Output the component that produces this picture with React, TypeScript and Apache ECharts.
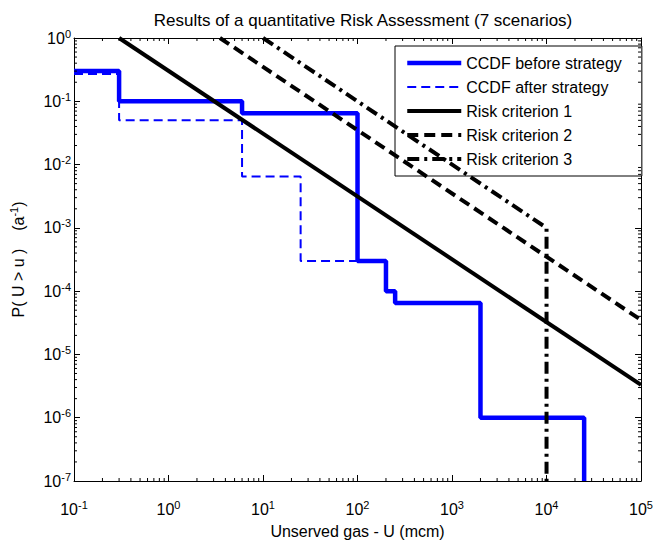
import React, { useEffect, useRef } from "react";
import * as echarts from "echarts";

// CCDF before strategy (step points: step occurs at each new x)
const xBefore = [0.1, 0.3, 6, 100, 200, 250, 2000, 25000];
const yBefore = [0.3, 0.1, 0.065, 3e-4, 1e-4, 6.5e-5, 1e-6, 1e-7];
// CCDF after strategy
const xAfter = [0.1, 0.3, 6, 25, 100];
const yAfter = [0.27, 0.05, 0.0065, 3e-4, 3e-4];
// Risk criteria
const xCrit1 = [0.3, 1e5];
const yCrit1 = [1, 3.3e-6];
const xCrit2 = [3.5, 1e5];
const yCrit2 = [1, 3.5e-5];
const xCrit3 = [10, 1e4, 1e4];
const yCrit3 = [1, 1e-3, 1e-7];

const seriesNames = [
  "CCDF before strategy",
  "CCDF after strategy",
  "Risk criterion 1",
  "Risk criterion 2",
  "Risk criterion 3",
];

// axis ranges and minor tick positions
const xMin = 0.1;
const xMax = 1e5;
const yMin = 1e-7;
const yMax = 1;
const minorMantissas = [2, 3, 4, 5, 6, 7, 8, 9];
const xDecades = [0.1, 1, 10, 100, 1000, 10000];
const yDecades = [1e-7, 1e-6, 1e-5, 1e-4, 1e-3, 1e-2, 1e-1];

const FONT = "Liberation Sans, Arial, sans-serif";

const pairs = (xs: number[], ys: number[]) => xs.map((x, i) => [x, ys[i]]);

const styles = [
  { color: "#0000ff", width: 4.5, type: "solid" as any },
  { color: "#0000ff", width: 2, type: [9, 5] as any },
  { color: "#000", width: 4, type: "solid" as any },
  { color: "#000", width: 4, type: [11, 6] as any },
  { color: "#000", width: 4, type: [12, 5, 3, 5] as any },
];

export default function App() {
  const ref = useRef<HTMLDivElement>(null);
  useEffect(() => {
    if (!ref.current) return;
    const chart = echarts.init(ref.current, null, { renderer: "svg" });

    const xMinorData = xDecades.flatMap((d) => minorMantissas.map((m) => [m * d, 1]));
    const yMinorData = yDecades.flatMap((d) => minorMantissas.map((m) => [1, m * d]));

    const fmt = (v: number) => `{b|10}{s|${Math.round(Math.log10(v))}}`;
    const rich = {
      b: { fontSize: 16, fontFamily: FONT, color: "#000" },
      s: { fontSize: 11, fontFamily: FONT, color: "#000", padding: [0, 0, 9, 0] },
    };

    const tickStyle = { show: true, inside: true, length: 6, lineStyle: { color: "#000", width: 1 } };
    const lineStyleAxis = { show: true, lineStyle: { color: "#000", width: 1 } };

    const lineSeries = (i: number, xs: number[], ys: number[], step: boolean) => ({
      name: seriesNames[i],
      type: "line",
      step: step ? "end" : false,
      data: pairs(xs, ys),
      symbol: "none",
      lineStyle: { ...styles[i] },
      itemStyle: { color: styles[i].color },
      z: i < 2 ? 3 : 4,
    });

    chart.setOption({
      animation: false,
      backgroundColor: "#fff",
      title: {
        text: "Results of a quantitative Risk Assessment (7 scenarios)",
        left: 358,
        textAlign: "center",
        top: 7,
        textStyle: { fontSize: 17, fontWeight: "normal", fontFamily: FONT, color: "#000" },
      },
      grid: { left: 73, right: 10, top: 38, bottom: 57, containLabel: false },
      legend: {
        data: seriesNames.map((n, i) => ({
          name: n,
          lineStyle: { color: styles[i].color, width: styles[i].width, type: styles[i].type },
        })),
        orient: "vertical",
        left: 395,
        top: 46,
        backgroundColor: "#fff",
        borderColor: "#000",
        borderWidth: 1,
        borderRadius: 0,
        padding: [9, 20, 9, 10],
        itemWidth: 54,
        itemHeight: 14,
        itemGap: 8,
        itemStyle: { opacity: 0 },
        textStyle: { fontSize: 16, fontFamily: FONT, color: "#000", lineHeight: 14 },
      },
      xAxis: [
        {
          type: "log",
          logBase: 10,
          min: xMin,
          max: xMax,
          name: "Unserved gas - U (mcm)",
          nameLocation: "middle",
          nameGap: 42,
          nameTextStyle: { fontSize: 16, fontFamily: FONT, color: "#000" },
          axisLine: lineStyleAxis,
          axisTick: tickStyle,
          axisLabel: { formatter: fmt, rich, margin: 18, showMinLabel: true, showMaxLabel: true },
          splitLine: { show: false },
        },
        {
          type: "log",
          logBase: 10,
          min: xMin,
          max: xMax,
          position: "top",
          axisLine: lineStyleAxis,
          axisTick: tickStyle,
          axisLabel: { show: false },
          splitLine: { show: false },
        },
      ],
      yAxis: [
        {
          type: "log",
          logBase: 10,
          min: yMin,
          max: yMax,
          name: "P( U > u )    (a{s|-1})",
          nameLocation: "middle",
          nameRotate: 90,
          nameGap: 46,
          nameTextStyle: {
            fontSize: 16,
            fontFamily: FONT,
            color: "#000",
            rich: { s: { fontSize: 11, fontFamily: FONT, color: "#000", padding: [0, 0, 9, 0] } },
          },
          axisLine: lineStyleAxis,
          axisTick: tickStyle,
          axisLabel: { formatter: fmt, rich, margin: 3, showMinLabel: true, showMaxLabel: true },
          splitLine: { show: false },
        },
        {
          type: "log",
          logBase: 10,
          min: yMin,
          max: yMax,
          position: "right",
          axisLine: lineStyleAxis,
          axisTick: tickStyle,
          axisLabel: { show: false },
          splitLine: { show: false },
        },
      ],
      series: [
        lineSeries(0, xBefore, yBefore, true),
        lineSeries(1, xAfter, yAfter, true),
        lineSeries(2, xCrit1, yCrit1, false),
        lineSeries(3, xCrit2, yCrit2, false),
        lineSeries(4, xCrit3, yCrit3, false),
        {
          type: "custom",
          silent: true,
          data: xMinorData,
          z: 5,
          renderItem: (_p: any, api: any) => {
            const v = api.value(0);
            const b = api.coord([v, yMin]);
            const t = api.coord([v, yMax]);
            return {
              type: "group",
              children: [
                { type: "line", shape: { x1: b[0], y1: b[1], x2: b[0], y2: b[1] - 3 }, style: { stroke: "#000", lineWidth: 1 } },
                { type: "line", shape: { x1: t[0], y1: t[1], x2: t[0], y2: t[1] + 3 }, style: { stroke: "#000", lineWidth: 1 } },
              ],
            };
          },
        },
        {
          type: "custom",
          silent: true,
          data: yMinorData,
          z: 5,
          renderItem: (_p: any, api: any) => {
            const v = api.value(1);
            const l = api.coord([xMin, v]);
            const r = api.coord([xMax, v]);
            return {
              type: "group",
              children: [
                { type: "line", shape: { x1: l[0], y1: l[1], x2: l[0] + 3, y2: l[1] }, style: { stroke: "#000", lineWidth: 1 } },
                { type: "line", shape: { x1: r[0], y1: r[1], x2: r[0] - 3, y2: r[1] }, style: { stroke: "#000", lineWidth: 1 } },
              ],
            };
          },
        },
      ],
    });
    return () => chart.dispose();
  }, []);
  return (
    <div
      ref={ref}
      style={{ position: "fixed", left: 0, top: 0, width: 656, height: 544, background: "#fff" }}
    />
  );
}
